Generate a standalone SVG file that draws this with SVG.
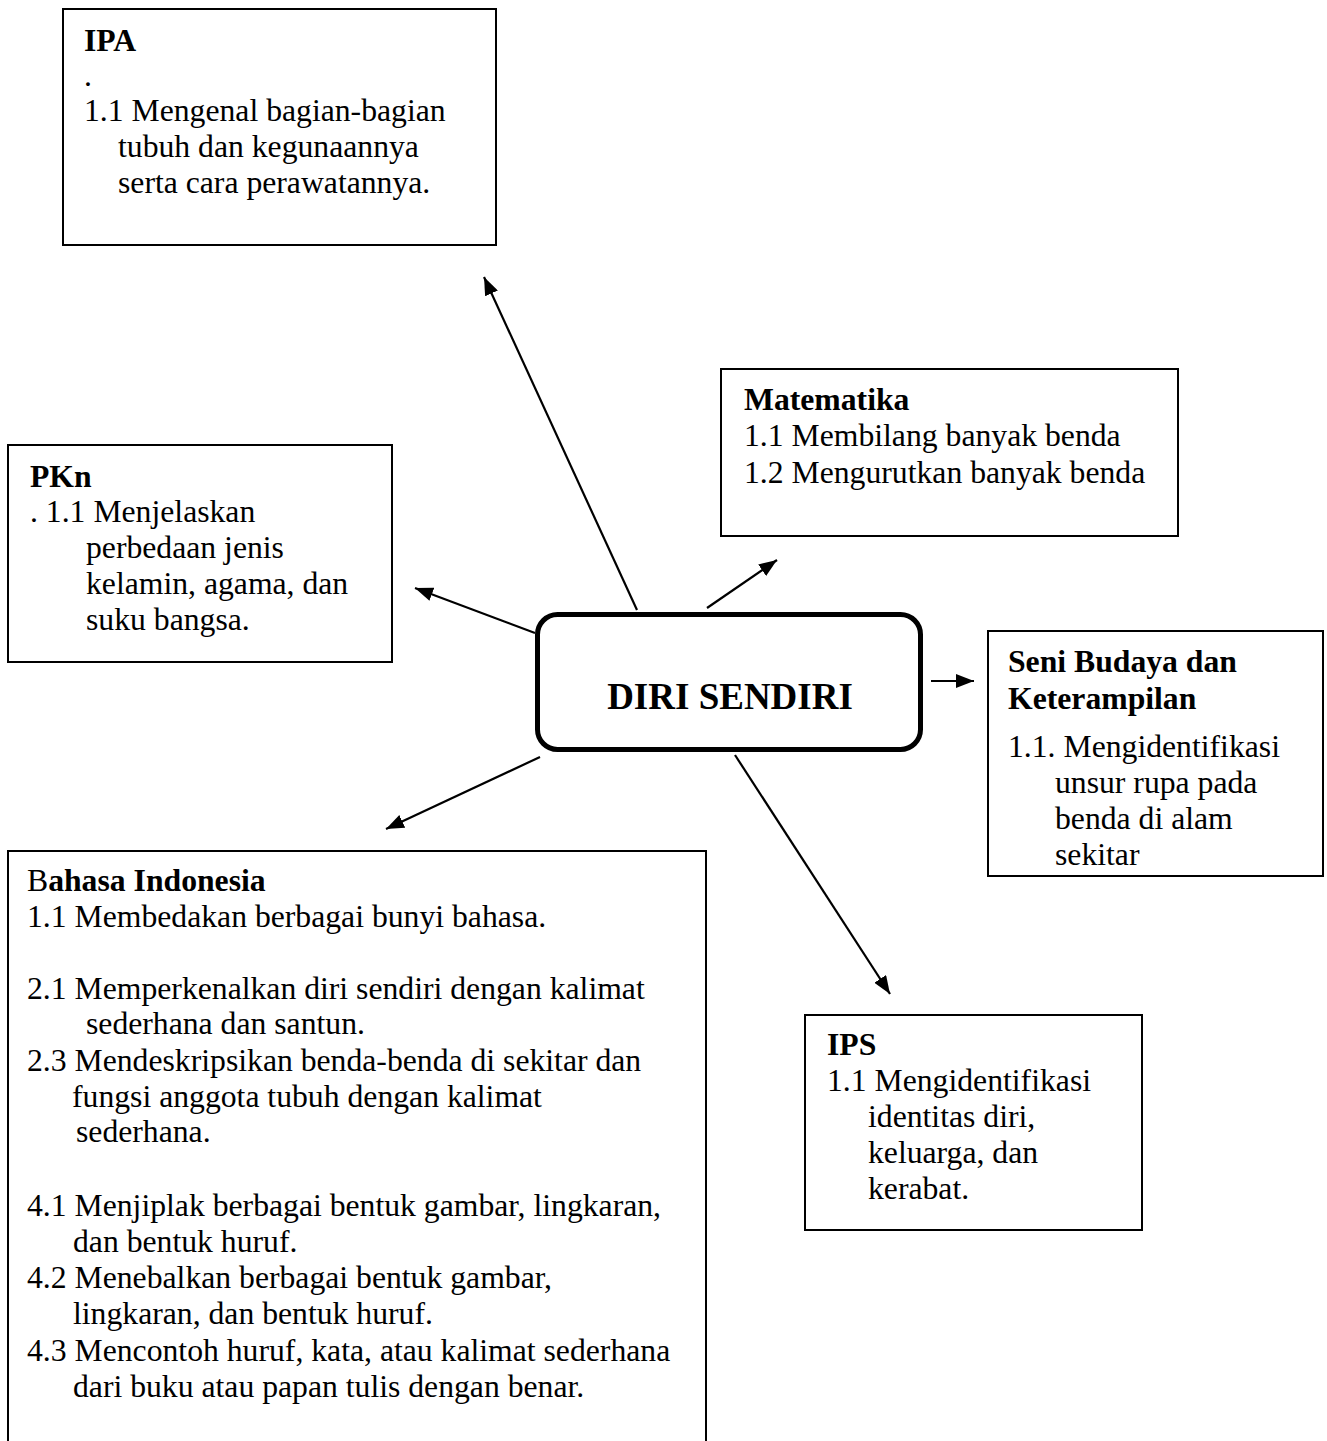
<svg xmlns="http://www.w3.org/2000/svg" width="1327" height="1441" viewBox="0 0 1327 1441">
<style>
text{font-family:"Liberation Serif","Times New Roman",serif;font-size:31.7px;fill:#000}
.b{font-weight:bold}
.box{fill:#fff;stroke:#000;stroke-width:2}
.center{fill:#fff;stroke:#000;stroke-width:5}
.con line{stroke:#000;stroke-width:2.2;fill:none}
.big{font-size:37px;font-weight:bold}
</style>
<defs>
<marker id="ah" markerUnits="userSpaceOnUse" viewBox="0 0 18 14" refX="18" refY="7" markerWidth="18" markerHeight="14" orient="auto">
<path d="M0,0 L18,7 L0,14 z" fill="#000"/>
</marker>
</defs>
<rect width="1327" height="1441" fill="#fff"/>

<g id="ipa">
<rect class="box" x="63" y="9" width="433" height="236"/>
<text class="b" x="84" y="51">IPA</text>
<text x="84" y="86">.</text>
<text x="84" y="121">1.1 Mengenal bagian-bagian</text>
<text x="118" y="157">tubuh dan kegunaannya</text>
<text x="118" y="193">serta cara perawatannya.</text>
</g>

<g id="pkn">
<rect class="box" x="8" y="445" width="384" height="217"/>
<text class="b" x="30" y="487">PKn</text>
<text x="30" y="522">. 1.1 Menjelaskan</text>
<text x="86" y="558">perbedaan jenis</text>
<text x="86" y="594">kelamin, agama, dan</text>
<text x="86" y="630">suku bangsa.</text>
</g>

<g id="matematika">
<rect class="box" x="721" y="369" width="457" height="167"/>
<text class="b" x="744" y="410">Matematika</text>
<text x="744" y="446">1.1 Membilang banyak benda</text>
<text x="744" y="483">1.2 Mengurutkan banyak benda</text>
</g>

<g id="seni">
<rect class="box" x="988" y="631" width="335" height="245"/>
<text class="b" x="1008" y="672">Seni Budaya dan</text>
<text class="b" x="1008" y="709">Keterampilan</text>
<text x="1008" y="757">1.1. Mengidentifikasi</text>
<text x="1055" y="793">unsur rupa pada</text>
<text x="1055" y="829">benda di alam</text>
<text x="1055" y="865">sekitar</text>
</g>

<g id="diri">
<rect class="center" x="537.5" y="614.5" width="383" height="135" rx="20" ry="20"/>
<text class="big" x="730" y="709" text-anchor="middle">DIRI SENDIRI</text>
</g>

<g id="bahasa">
<rect class="box" x="8" y="851" width="698" height="620"/>
<text x="27" y="891">B<tspan class="b">ahasa Indonesia</tspan></text>
<text x="27" y="927">1.1 Membedakan berbagai bunyi bahasa.</text>
<text x="27" y="999">2.1 Memperkenalkan diri sendiri dengan kalimat</text>
<text x="86" y="1034">sederhana dan santun.</text>
<text x="27" y="1071">2.3 Mendeskripsikan benda-benda di sekitar dan</text>
<text x="72" y="1107">fungsi anggota tubuh dengan kalimat</text>
<text x="76" y="1142">sederhana.</text>
<text x="27" y="1216">4.1 Menjiplak berbagai bentuk gambar, lingkaran,</text>
<text x="73" y="1252">dan bentuk huruf.</text>
<text x="27" y="1288">4.2 Menebalkan berbagai bentuk gambar,</text>
<text x="73" y="1324">lingkaran, dan bentuk huruf.</text>
<text x="27" y="1361">4.3 Mencontoh huruf, kata, atau kalimat sederhana</text>
<text x="73" y="1397">dari buku atau papan tulis dengan benar.</text>
</g>

<g id="ips">
<rect class="box" x="805" y="1015" width="337" height="215"/>
<text class="b" x="827" y="1055">IPS</text>
<text x="827" y="1091">1.1 Mengidentifikasi</text>
<text x="868" y="1127">identitas diri,</text>
<text x="868" y="1163">keluarga, dan</text>
<text x="868" y="1199">kerabat.</text>
</g>

<g id="connectors" class="con">
<line x1="637" y1="610" x2="484" y2="277" marker-end="url(#ah)"/>
<line x1="535" y1="633" x2="415" y2="588" marker-end="url(#ah)"/>
<line x1="707" y1="608" x2="777" y2="560" marker-end="url(#ah)"/>
<line x1="931" y1="681" x2="974" y2="681" marker-end="url(#ah)"/>
<line x1="540" y1="757" x2="386" y2="829" marker-end="url(#ah)"/>
<line x1="735" y1="755" x2="890" y2="994" marker-end="url(#ah)"/>
</g>
</svg>
